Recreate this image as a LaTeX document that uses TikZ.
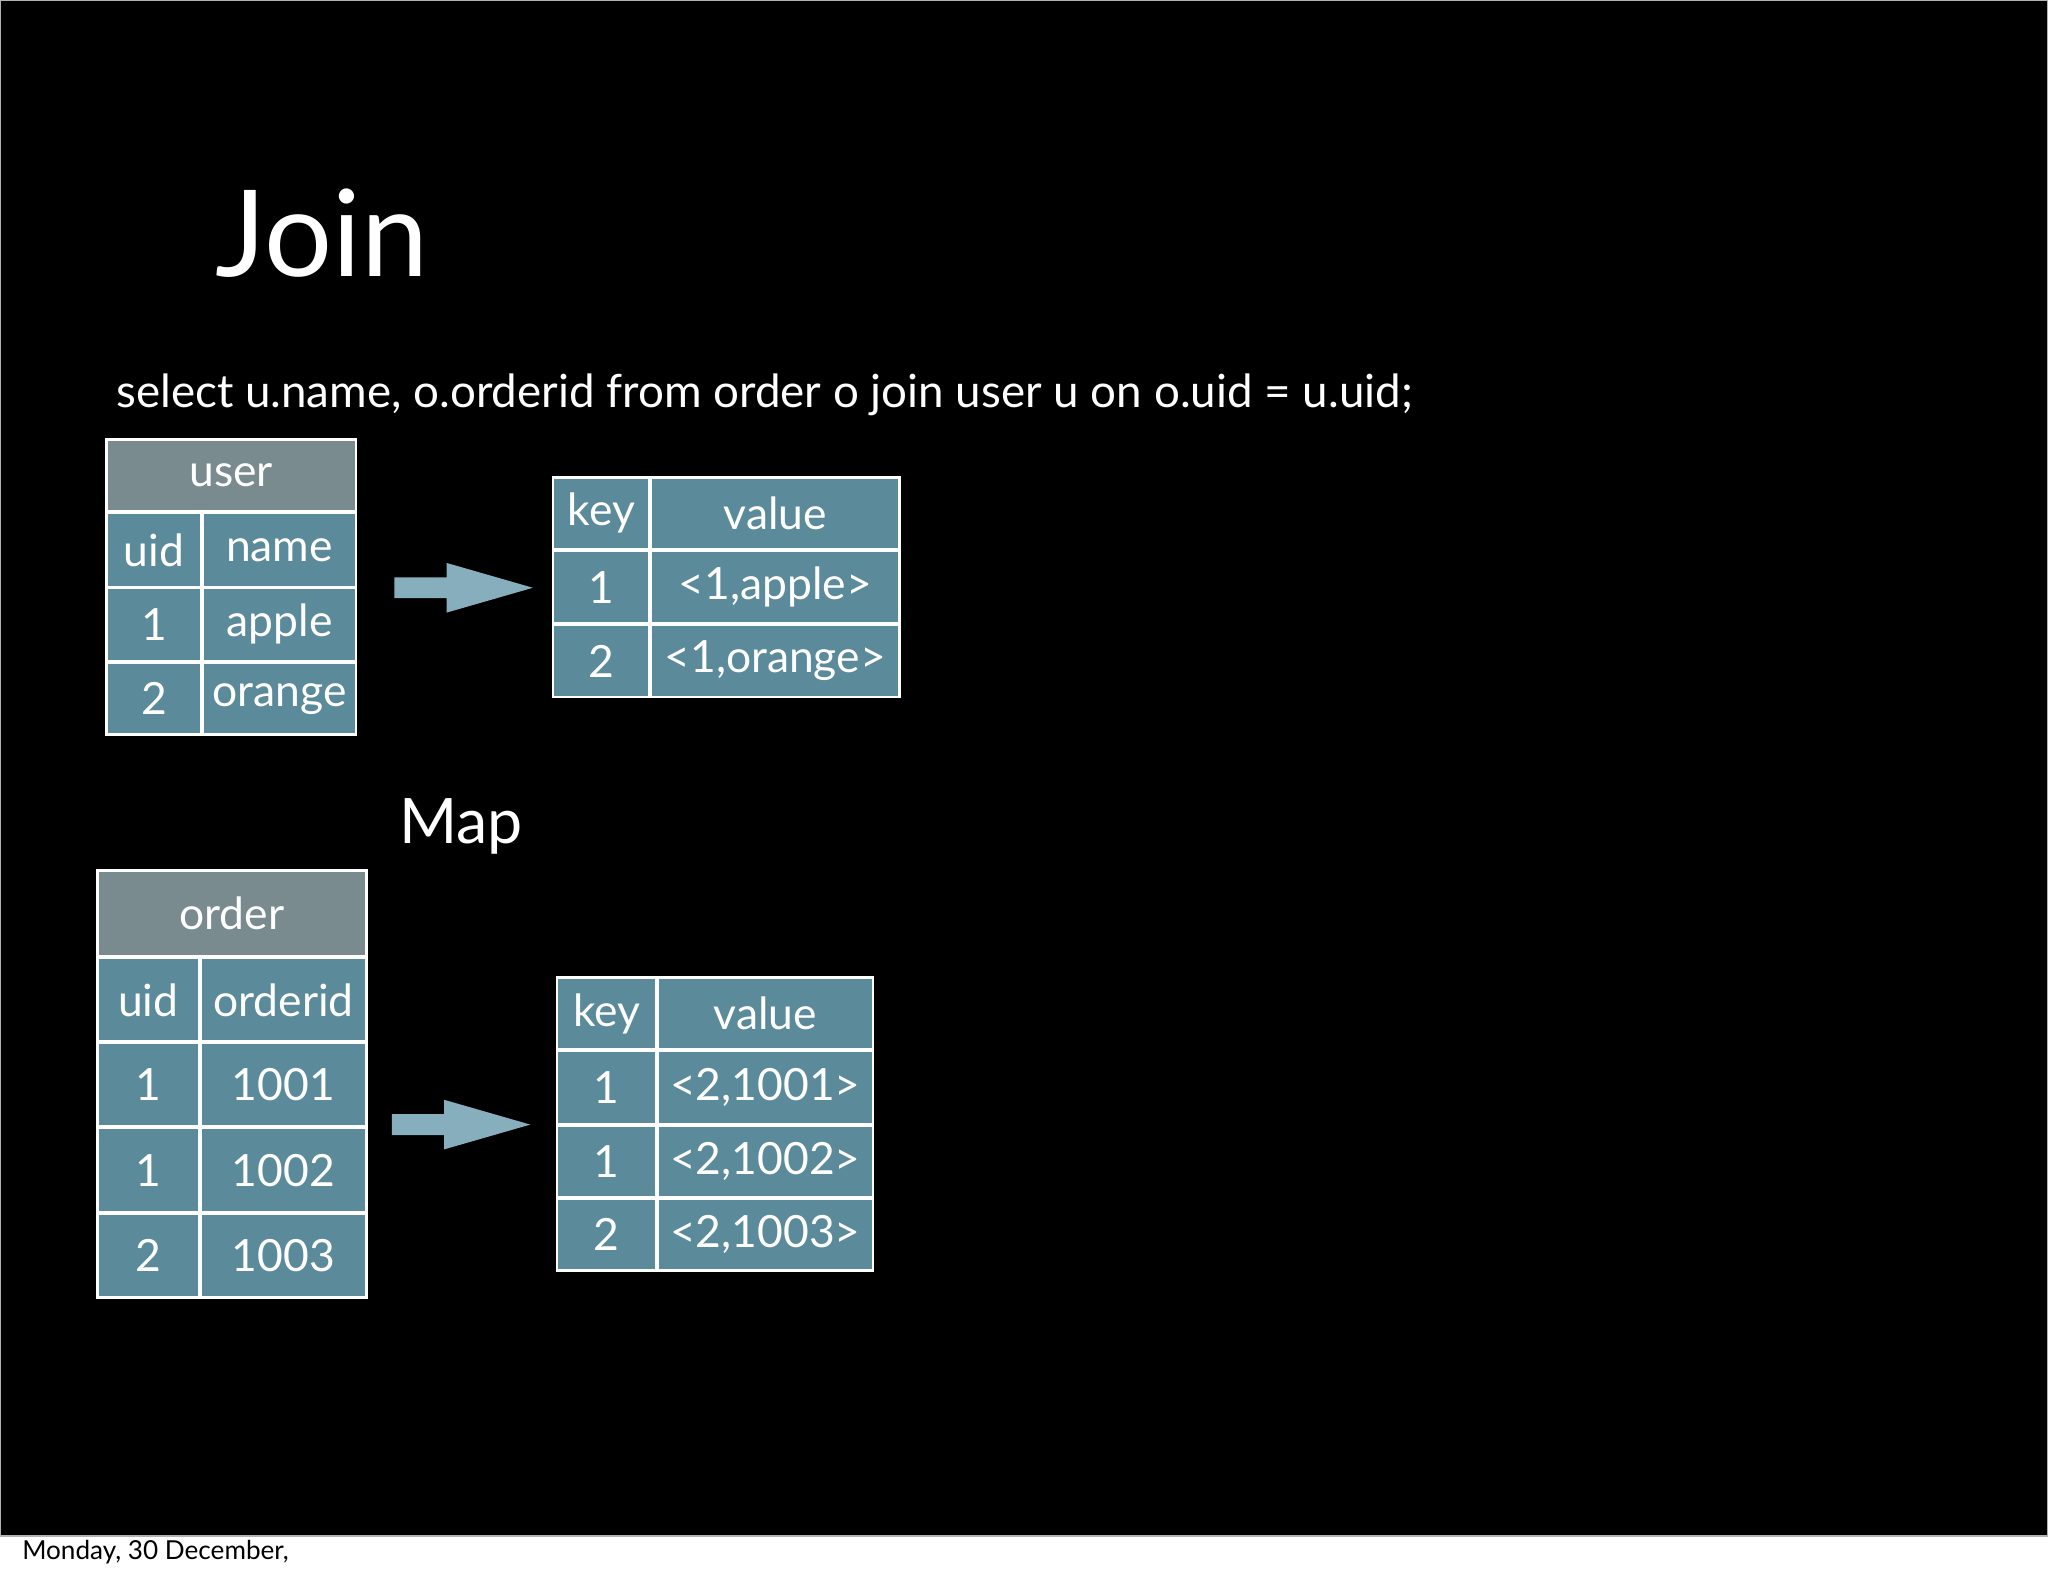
\documentclass[tikz,border=0pt]{standalone}
\usepackage{fontspec}
\setmainfont{Lato}
\definecolor{teal1}{HTML}{5B8A9A}
\definecolor{hdr}{HTML}{7A8B8F}
\definecolor{arr}{HTML}{86AEBC}
\newcommand\mycell[6]{\node[cellst,fill=#6,minimum width=#3*0.5pt-0.5pt,minimum height=#4*0.5pt-0.5pt] (#1) at (#2) {#5};}
\begin{document}
\begin{tikzpicture}[x=0.5pt,y=-0.5pt,
  cellst/.style={draw=white,line width=1pt,inner sep=0pt,text=white,font=\fontsize{17}{17}\selectfont},
  arrowst/.style={fill=arr}]
\useasboundingbox (0,0) rectangle (1568,1206);
\fill[black] (0,0) rectangle (1568,1176);
\fill[white] (0,1176) rectangle (1568,1206);
\draw[gray!60,line width=0.5pt] (0.5,0.5) rectangle (1567.5,1176);
\node[anchor=base west,text=white,font=\fontsize{46}{46}\selectfont] (title) at (158,212) {Join};
\node[anchor=base west,text=white,font=\fontsize{17.5}{18}\selectfont] (sql) at (82,312) {select u.name, o.orderid from order o join user u on o.uid = u.uid;};
\node[anchor=base,text=white,font=\fontsize{24}{24}\selectfont] (map) at (353,646) {Map};
\node[anchor=base west,text=black,font=\fontsize{10}{10}\selectfont] (date) at (10,1194) {Monday, 30 December,};
% user table
\mycell{uh}{177,364}{192}{56}{user}{hdr}
\mycell{u11}{118,421}{74}{58}{uid}{teal1}
\mycell{u12}{214,421}{118}{58}{name}{teal1}
\mycell{u21}{118,478}{74}{57}{1}{teal1}
\mycell{u22}{214,478}{118}{57}{apple}{teal1}
\mycell{u31}{118,535}{74}{56}{2}{teal1}
\mycell{u32}{214,535}{118}{56}{orange}{teal1}
% kv1
\mycell{a11}{460.5,393}{75}{56}{key}{teal1}
\mycell{a12}{593.5,393}{191}{56}{value}{teal1}
\mycell{a21}{460.5,449.5}{75}{57}{1}{teal1}
\mycell{a22}{593.5,449.5}{191}{57}{<1,apple>}{teal1}
\mycell{a31}{460.5,506}{75}{56}{2}{teal1}
\mycell{a32}{593.5,506}{191}{56}{<1,orange>}{teal1}
% order table
\mycell{oh}{177.5,699.5}{207}{67}{order}{hdr}
\mycell{o11}{113.5,765.5}{79}{65}{uid}{teal1}
\mycell{o12}{217,765.5}{128}{65}{orderid}{teal1}
\mycell{o21}{113.5,830.5}{79}{65}{1}{teal1}
\mycell{o22}{217,830.5}{128}{65}{1001}{teal1}
\mycell{o31}{113.5,896}{79}{66}{1}{teal1}
\mycell{o32}{217,896}{128}{66}{1002}{teal1}
\mycell{o41}{113.5,961.5}{79}{65}{2}{teal1}
\mycell{o42}{217,961.5}{128}{65}{1003}{teal1}
% kv2
\mycell{b11}{464.5,776}{77}{56}{key}{teal1}
\mycell{b12}{586,776}{166}{56}{value}{teal1}
\mycell{b21}{464.5,832.5}{77}{57}{1}{teal1}
\mycell{b22}{586,832.5}{166}{57}{<2,1001>}{teal1}
\mycell{b31}{464.5,889}{77}{56}{1}{teal1}
\mycell{b32}{586,889}{166}{56}{<2,1002>}{teal1}
\mycell{b41}{464.5,945}{77}{56}{2}{teal1}
\mycell{b42}{586,945}{166}{56}{<2,1003>}{teal1}
% arrows
\fill[arrowst] (302,442) -- (342,442) -- (342,431) -- (408,450) -- (342,469) -- (342,458) -- (302,458) -- cycle;
\fill[arrowst] (300,853) -- (340,853) -- (340,842) -- (406,861) -- (340,880) -- (340,869) -- (300,869) -- cycle;
\end{tikzpicture}
\end{document}
